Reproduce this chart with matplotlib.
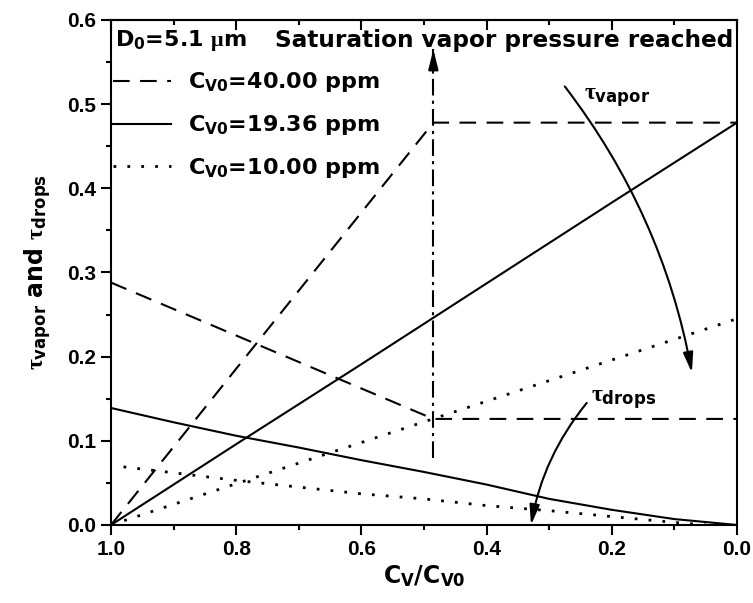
import matplotlib
matplotlib.use('Agg')
import matplotlib.pyplot as plt
from matplotlib.ticker import MultipleLocator, FormatStrFormatter

plt.rcParams['font.family'] = ['DejaVu Sans']
plt.rcParams['font.weight'] = 'bold'
plt.rcParams['mathtext.fontset'] = 'custom'
plt.rcParams['mathtext.rm'] = 'DejaVu Sans:bold'
plt.rcParams['mathtext.bf'] = 'DejaVu Sans:bold'
plt.rcParams['mathtext.it'] = 'Liberation Serif'
plt.rcParams['axes.linewidth'] = 1.5

# C_V0 = 40.00 ppm (saturation reached at C_V/C_V0 = 0.485)
vap40_x = [1.0, 0.485, 0.0]
vap40_y = [0.0, 0.478, 0.478]
drop40_x = [1.0, 0.485, 0.0]
drop40_y = [0.288, 0.126, 0.126]

# C_V0 = 19.36 ppm
vap19_x = [1.0, 0.8, 0.6, 0.4, 0.2, 0.0]
vap19_y = [0.0, 0.096, 0.191, 0.287, 0.383, 0.478]
drop19_x = [1.0, 0.9, 0.8, 0.7, 0.6, 0.5, 0.4, 0.3, 0.2, 0.1, 0.0]
drop19_y = [0.139, 0.122, 0.106, 0.092, 0.077, 0.063, 0.048, 0.031, 0.018, 0.007, 0.0]

# C_V0 = 10.00 ppm
vap10_x = [1.0, 0.0]
vap10_y = [0.0, 0.245]
drop10_x = [0.98, 0.9, 0.8, 0.7, 0.6, 0.5, 0.4, 0.3, 0.2, 0.1, 0.05]
drop10_y = [0.069, 0.062, 0.053, 0.045, 0.037, 0.031, 0.023, 0.017, 0.010, 0.003, 0.0]

# saturation marker
sat_x = [0.485, 0.485]
sat_y = [0.08, 0.565]

labels = [r'C$_{\mathbf{V0}}$=40.00 ppm', r'C$_{\mathbf{V0}}$=19.36 ppm',
          r'C$_{\mathbf{V0}}$=10.00 ppm']

dashed = (0, (8, 5))
dotted = (0, (1, 4))

fig = plt.figure(figsize=(7.53, 6.03), dpi=100)
ax = fig.add_axes([0.1474, 0.1294, 0.8313, 0.8375])

l1, = ax.plot(vap40_x, vap40_y, color='k', lw=1.5, ls=dashed, label=labels[0])
ax.plot(drop40_x, drop40_y, color='k', lw=1.5, ls=dashed)
l2, = ax.plot(vap19_x, vap19_y, color='k', lw=1.5, label=labels[1])
ax.plot(drop19_x, drop19_y, color='k', lw=1.5)
l3, = ax.plot(vap10_x, vap10_y, color='k', lw=2, ls=dotted, label=labels[2])
ax.plot(drop10_x, drop10_y, color='k', lw=2, ls=dotted)

ax.plot(sat_x, sat_y, color='k', lw=1.5, ls=(0, (8, 2.5, 1.5, 2.5)))
ax.annotate('', xy=(sat_x[1], sat_y[1]), xytext=(sat_x[1], sat_y[1] - 0.02),
            arrowprops=dict(arrowstyle='-|>,head_length=0.8,head_width=0.2',
                            mutation_scale=15, color='k', lw=1.5,
                            shrinkA=0, shrinkB=0))

arr = dict(arrowstyle='-|>,head_length=0.8,head_width=0.2', mutation_scale=15,
           color='k', lw=1.5, shrinkA=0, shrinkB=0)
ax.annotate('', xy=(0.072, 0.181), xytext=(0.275, 0.521),
            arrowprops=dict(arr, connectionstyle='arc3,rad=-0.12'))
ax.annotate('', xy=(0.329, 0.0), xytext=(0.24, 0.145),
            arrowprops=dict(arr, connectionstyle='arc3,rad=0.13'))

ax.text(0.245, 0.508, r'$\tau_{\mathbf{vapor}}$', fontsize=17, ha='left', va='center')
ax.text(0.233, 0.150, r'$\tau_{\mathbf{drops}}$', fontsize=17, ha='left', va='center')

ax.text(0.993, 0.576, r'D$_\mathbf{0}$=5.1 $\mu$m', fontsize=16, ha='left', va='center')
ax.text(0.006, 0.576, 'Saturation vapor pressure reached', fontsize=16.7,
        ha='right', va='center')

ax.legend(handles=[l1, l2, l3], loc='upper left', bbox_to_anchor=(0.003, 0.90),
          frameon=False, fontsize=16, handlelength=2.6, handletextpad=0.8,
          labelspacing=0.85, borderpad=0, borderaxespad=0)

ax.set_xlim(1.0, 0.0)
ax.set_ylim(0.0, 0.6)
ax.xaxis.set_major_locator(MultipleLocator(0.2))
ax.xaxis.set_minor_locator(MultipleLocator(0.1))
ax.yaxis.set_major_locator(MultipleLocator(0.1))
ax.yaxis.set_minor_locator(MultipleLocator(0.05))
ax.xaxis.set_major_formatter(FormatStrFormatter('%.1f'))
ax.yaxis.set_major_formatter(FormatStrFormatter('%.1f'))
ax.tick_params(which='both', direction='out', width=1.5, labelsize=15,
               top=False, right=False)
ax.tick_params(which='major', length=7)
ax.tick_params(which='minor', length=3.5)
for lab in ax.get_xticklabels() + ax.get_yticklabels():
    lab.set_fontfamily('Liberation Sans')
    lab.set_fontweight('bold')

# inward ticks along the top edge
top = ax.secondary_xaxis('top')
top.xaxis.set_major_locator(MultipleLocator(0.2))
top.xaxis.set_minor_locator(MultipleLocator(0.1))
top.tick_params(which='both', direction='in', width=1.5, labeltop=False)
top.tick_params(which='major', length=7)
top.tick_params(which='minor', length=3.5)
top.spines['top'].set_linewidth(1.5)

ax.set_xlabel(r'C$_\mathbf{V}$/C$_{\mathbf{V0}}$', fontsize=17, fontweight='bold',
              labelpad=4)
ax.set_ylabel(r'$\tau_{\mathbf{vapor}}$ and $\tau_{\mathbf{drops}}$', fontsize=17,
              fontweight='bold', labelpad=10)

fig.savefig('out.png', dpi=100)
